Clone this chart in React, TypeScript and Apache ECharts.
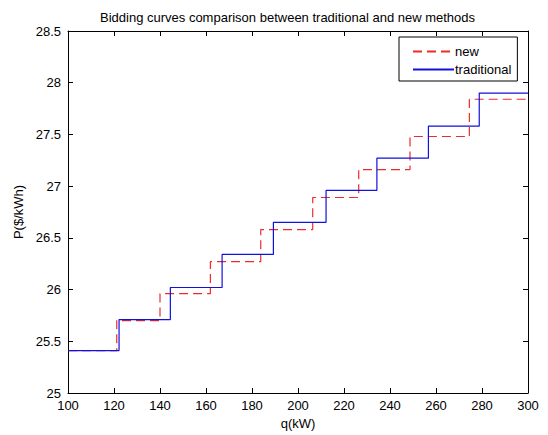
import React, { useEffect, useRef } from "react";
import * as echarts from "echarts";

const titleText = "Bidding curves comparison between traditional and new methods";
const xName = "q(kW)";
const yName = "P($/kWh)";
const newName = "new";
const tradName = "traditional";

// step start positions (q) and price levels
const newQ = [100, 121.2, 140, 161.9, 183.8, 206.4, 226.4, 248.7, 274.5, 300];
const newP = [25.41, 25.7, 25.96, 26.27, 26.58, 26.89, 27.16, 27.48, 27.84, 27.84];
const tradQ = [100, 122.2, 144.5, 167, 189.3, 212.2, 234.3, 256.7, 278.8, 300];
const tradP = [25.41, 25.71, 26.02, 26.34, 26.65, 26.96, 27.27, 27.58, 27.9, 27.9];

const FONT = "Liberation Sans, Arial, sans-serif";
const RED = "#ee2a2a";
const BLUE = "#1010e0";

export default function App() {
  const ref = useRef<HTMLDivElement>(null);
  useEffect(() => {
    if (!ref.current) return;
    const chart = echarts.init(ref.current, null, { renderer: "svg" });
    const axisCommon = {
      axisLine: { show: true, onZero: false, lineStyle: { color: "#000", width: 1 } },
      axisTick: { show: true, inside: true, length: 5, lineStyle: { color: "#000" } },
      splitLine: { show: false },
    };
    chart.setOption({
      animation: false,
      backgroundColor: "#fff",
      title: {
        text: titleText,
        left: 95,
        top: 6,
        textStyle: { fontFamily: FONT, fontSize: 13, fontWeight: "normal", color: "#000" },
      },
      legend: {
        orient: "vertical",
        left: 399,
        top: 37,
        width: 122,
        borderColor: "#000",
        borderWidth: 1,
        padding: [8, 6, 5, 13],
        itemGap: 5,
        itemWidth: 41,
        itemHeight: 14,
        backgroundColor: "#fff",
        itemStyle: { opacity: 0 },
        textStyle: { fontFamily: FONT, fontSize: 13, color: "#000", padding: [0, 0, 0, -4] },
        data: [{ name: newName }, { name: tradName }],
      },
      grid: { left: 68, right: 20, top: 31, bottom: 40, containLabel: false },
      xAxis: [
        {
          type: "value",
          min: 100,
          max: 300,
          interval: 20,
          name: xName,
          nameLocation: "middle",
          nameGap: 24,
          nameTextStyle: { fontFamily: FONT, fontSize: 13, color: "#000" },
          axisLabel: { fontFamily: FONT, fontSize: 13, color: "#000", margin: 6 },
          ...axisCommon,
        },
        {
          type: "value",
          position: "top",
          min: 100,
          max: 300,
          interval: 20,
          axisLabel: { show: false },
          ...axisCommon,
        },
      ],
      yAxis: [
        {
          type: "value",
          min: 25,
          max: 28.5,
          interval: 0.5,
          name: yName,
          nameLocation: "middle",
          nameGap: 40,
          nameTextStyle: { fontFamily: FONT, fontSize: 13, color: "#000" },
          axisLabel: { fontFamily: FONT, fontSize: 13, color: "#000", margin: 7 },
          ...axisCommon,
        },
        {
          type: "value",
          position: "right",
          min: 25,
          max: 28.5,
          interval: 0.5,
          axisLabel: { show: false },
          ...axisCommon,
        },
      ],
      series: [
        {
          name: newName,
          type: "line",
          step: "end",
          showSymbol: false,
          symbol: "none",
          data: newQ.map((q, i) => [q, newP[i]]),
          lineStyle: { color: RED, width: 1.2, type: [9, 5] },
          itemStyle: { color: RED },
          z: 2,
        },
        {
          name: tradName,
          type: "line",
          step: "end",
          showSymbol: false,
          symbol: "none",
          data: tradQ.map((q, i) => [q, tradP[i]]),
          lineStyle: { color: BLUE, width: 1.2, type: "solid" },
          itemStyle: { color: BLUE },
          z: 3,
        },
      ],
    });
    return () => chart.dispose();
  }, []);
  return <div ref={ref} style={{ width: 548, height: 435, position: "absolute", left: 0, top: 0 }} />;
}
